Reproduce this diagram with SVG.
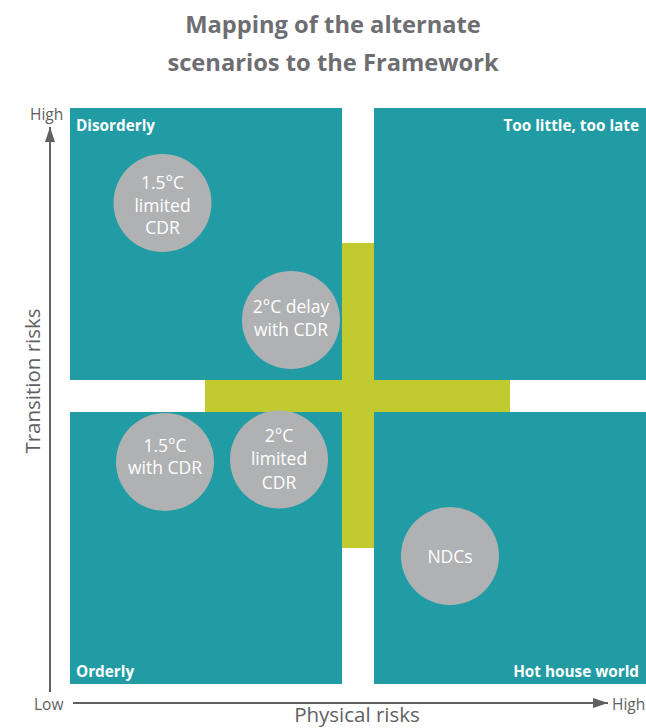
<svg xmlns="http://www.w3.org/2000/svg" width="646" height="728" viewBox="0 0 646 728">
<style>
.title{font-family:"Open Sans","Noto Sans",sans-serif;font-weight:700;font-size:23.7px;fill:#6d6e71;text-anchor:middle}
.quad{fill:#219ca4}
.bar{fill:#c1ca2f}
.qlabel{font-family:"Open Sans","Noto Sans",sans-serif;font-weight:700;font-size:15.3px;fill:#ffffff}
.circ{fill:#b0b1b3}
.ctext{font-family:"Open Sans","Noto Sans",sans-serif;font-size:17.5px;fill:#ffffff;text-anchor:middle}
.axis{stroke:#5f6062;stroke-width:2;fill:none}
.alabel{font-family:"Open Sans","Noto Sans",sans-serif;font-size:15.5px;fill:#5f6062}
.atitle{font-family:"Open Sans","Noto Sans",sans-serif;font-size:20.5px;fill:#5f6062;text-anchor:middle}
</style>
<defs>
<marker id="arr" markerWidth="16" markerHeight="10" refX="15" refY="5" orient="auto" markerUnits="userSpaceOnUse">
<path d="M0,0 L15,5 L0,10 Z" fill="#5f6062"/>
</marker>
</defs>
<rect width="646" height="728" fill="#ffffff"/>
<g id="title">
<text class="title" x="333" y="33">Mapping of the alternate</text>
<text class="title" x="333" y="71">scenarios to the Framework</text>
</g>
<g id="quadrants">
<g id="q-disorderly"><rect class="quad" x="70" y="108" width="272" height="272"/><text class="qlabel" x="76" y="131">Disorderly</text></g>
<g id="q-too-little"><rect class="quad" x="374" y="108" width="272" height="272"/><text class="qlabel" x="639" y="131" text-anchor="end">Too little, too late</text></g>
<g id="q-orderly"><rect class="quad" x="70" y="412" width="272" height="272"/><text class="qlabel" x="76" y="677">Orderly</text></g>
<g id="q-hothouse"><rect class="quad" x="374" y="412" width="272" height="272"/><text class="qlabel" x="639" y="677" text-anchor="end">Hot house world</text></g>
</g>
<g id="cross">
<rect class="bar" x="342" y="243" width="32" height="305"/>
<rect class="bar" x="205" y="380" width="305" height="32"/>
</g>
<g id="c-15-limited"><circle class="circ" cx="162.5" cy="203" r="49"/><text class="ctext" x="162.5" y="189">1.5°C</text><text class="ctext" x="162.5" y="212">limited</text><text class="ctext" x="162.5" y="234">CDR</text></g>
<g id="c-2-delay"><circle class="circ" cx="291" cy="320" r="49"/><text class="ctext" x="291" y="313">2°C delay</text><text class="ctext" x="291" y="336">with CDR</text></g>
<g id="c-15-with"><circle class="circ" cx="165" cy="462" r="49"/><text class="ctext" x="165" y="452">1.5°C</text><text class="ctext" x="165" y="474">with CDR</text></g>
<g id="c-2-limited"><circle class="circ" cx="279" cy="459.5" r="49"/><text class="ctext" x="279" y="442">2°C</text><text class="ctext" x="279" y="465">limited</text><text class="ctext" x="279" y="489">CDR</text></g>
<g id="c-ndcs"><circle class="circ" cx="450" cy="556" r="49"/><text class="ctext" x="450" y="563">NDCs</text></g>
<g id="connectors">
<line class="axis" x1="50" y1="692" x2="50" y2="127" marker-end="url(#arr)"/>
<line class="axis" x1="73" y1="703" x2="608" y2="703" marker-end="url(#arr)"/>
</g>
<g id="axis-labels">
<text class="alabel" x="30" y="120">High</text>
<text class="alabel" x="34" y="710">Low</text>
<text class="alabel" x="612" y="710">High</text>
<text class="atitle" x="357" y="722">Physical risks</text>
<text class="atitle" transform="translate(40,381) rotate(-90)">Transition risks</text>
</g>
</svg>
